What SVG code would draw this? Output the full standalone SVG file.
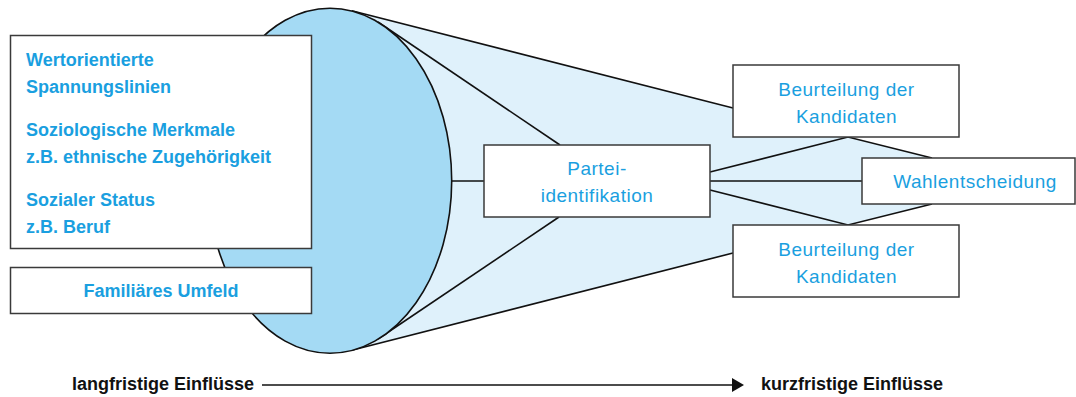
<svg xmlns="http://www.w3.org/2000/svg" width="1076" height="397" viewBox="0 0 1076 397">
<defs>
<style>
.box{fill:#ffffff;stroke:#3a3a3a;stroke-width:1.5}
.ln{stroke:#111111;stroke-width:1.6;fill:none}
.tl{font-family:"Liberation Sans",Arial,sans-serif;font-size:18px;font-weight:bold;fill:#1a9fe0}
.tr{font-family:"Liberation Sans",Arial,sans-serif;font-size:19px;letter-spacing:0.5px;fill:#1a9fe0;text-anchor:middle}
.tb{font-family:"Liberation Sans",Arial,sans-serif;font-size:18px;font-weight:bold;fill:#111111}
</style>
<marker id="arr" viewBox="0 0 12 14" refX="0" refY="7" markerWidth="12" markerHeight="14" markerUnits="userSpaceOnUse" orient="auto">
<path d="M0,0 L12,7 L0,14 Z" fill="#111111"/>
</marker>
</defs>
<rect width="1076" height="397" fill="#ffffff"/>
<g id="fan">
<polygon points="351.7,10.7 733,108 848,137 932,158 932,204 848,225 733,253 351.7,350.3" fill="#dff1fb"/>
</g>
<g id="connectors">
<line class="ln" x1="351.7" y1="10.7" x2="733" y2="108"/>
<line class="ln" x1="351.7" y1="350.3" x2="733" y2="253"/>
<line class="ln" x1="378" y1="22" x2="560" y2="145"/>
<line class="ln" x1="378" y1="339" x2="559" y2="217"/>
<line class="ln" x1="450" y1="181" x2="484" y2="181"/>
<polyline class="ln" points="710,172 848,137 932,158"/>
<line class="ln" x1="710" y1="181" x2="862" y2="181"/>
<polyline class="ln" points="710,190 848,225 932,204"/>
<line class="ln" x1="262" y1="385" x2="732" y2="385" marker-end="url(#arr)"/>
</g>
<g id="ellipse">
<ellipse cx="330" cy="180.7" rx="121.7" ry="172.5" fill="#a4daf4" stroke="#111111" stroke-width="1.6"/>
</g>
<g id="box-langfristig">
<rect class="box" x="10.5" y="35.5" width="301" height="213"/>
<text class="tl" x="26" y="66">Wertorientierte</text>
<text class="tl" x="26" y="93">Spannungslinien</text>
<text class="tl" x="26" y="136">Soziologische Merkmale</text>
<text class="tl" x="26" y="163">z.B. ethnische Zugehörigkeit</text>
<text class="tl" x="26" y="206">Sozialer Status</text>
<text class="tl" x="26" y="233">z.B. Beruf</text>
</g>
<g id="box-familie">
<rect class="box" x="10.5" y="267.5" width="301" height="46"/>
<text class="tl" x="161" y="297" text-anchor="middle">Familiäres Umfeld</text>
</g>
<g id="box-partei">
<rect class="box" x="484" y="145" width="226" height="72"/>
<text class="tr" x="597" y="175">Partei-</text>
<text class="tr" x="597" y="202">identifikation</text>
</g>
<g id="box-kandidaten-1">
<rect class="box" x="733" y="65" width="226" height="72"/>
<text class="tr" x="846.5" y="96">Beurteilung der</text>
<text class="tr" x="846.5" y="123">Kandidaten</text>
</g>
<g id="box-wahl">
<rect class="box" x="862" y="158" width="213" height="46"/>
<text class="tr" x="975" y="188">Wahlentscheidung</text>
</g>
<g id="box-kandidaten-2">
<rect class="box" x="733" y="225" width="226" height="72"/>
<text class="tr" x="846.5" y="256">Beurteilung der</text>
<text class="tr" x="846.5" y="283">Kandidaten</text>
</g>
<g id="labels">
<text class="tb" x="72" y="390">langfristige Einflüsse</text>
<text class="tb" x="761" y="390">kurzfristige Einflüsse</text>
</g>
</svg>
